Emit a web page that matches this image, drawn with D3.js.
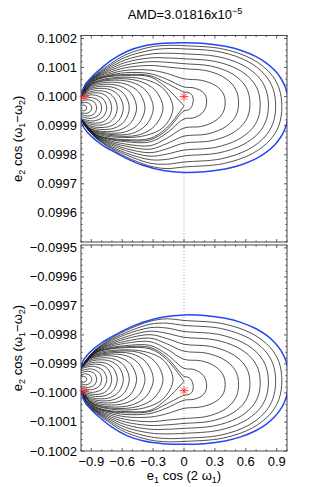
<!DOCTYPE html>
<html>
<head>
<meta charset="utf-8">
<script src="https://cdn.jsdelivr.net/npm/d3@7"></script>
<style>
  body { margin: 0; background: #fff; }
  text { font-family: "Liberation Sans", Arial, sans-serif; fill: #000; }
</style>
</head>
<body>
<div id="chart"></div>
<script>
// tick values
var xTicks = [-0.9, -0.6, -0.3, 0, 0.3, 0.6, 0.9];
var yTicksTop = [0.0996, 0.0997, 0.0998, 0.0999, 0.1000, 0.1001, 0.1002];
var yTicksBottom = [-0.1002, -0.1001, -0.1000, -0.0999, -0.0998, -0.0997, -0.0996, -0.0995];

// star line of each panel; curve points below are [x, offset from that line in 1e-5]
var centerTop = 0.1;
var centerBottom = -0.099992;
var stars = [[-0.97, 0], [0, 0]];

// blue AMD boundary
var boundary = [[-1.0, 0.0], [-0.98, 2.6], [-0.94, 4.9], [-0.88, 7.3], [-0.8, 9.8], [-0.7, 12.6],
  [-0.55, 15.6], [-0.4, 17.3], [-0.2, 18.3], [0, 18.5], [0.2, 18.27], [0.4, 17.32], [0.55, 15.94],
  [0.7, 13.73], [0.8, 11.52], [0.88, 9.02], [0.94, 6.3], [0.98, 3.54], [1.0, 1.3], [1.015, -3.8],
  [1.0, -8.9], [0.98, -11.14], [0.94, -13.9], [0.88, -16.62], [0.8, -19.12], [0.7, -21.33],
  [0.55, -23.54], [0.4, -24.92], [0.2, -25.87], [0, -26.1], [-0.2, -25.4], [-0.4, -23.6],
  [-0.55, -21.4], [-0.7, -18.6], [-0.8, -16.5], [-0.88, -14.3], [-0.94, -12.2], [-0.98, -10.2],
  [-1.0, -8.0], [-1.005, -4.0], [-1.0, 0.0]];

// separatrix, two branches meeting at the cusp
var sepTop = [[-1, 0], [-0.95, 3.0], [-0.86, 5.5], [-0.74, 6.8], [-0.57, 7.2], [-0.33, 6.8], [-0.17, 3.0], [0, -3.2]];
var sepBottom = [[0, -3.2], [-0.17, -10.8], [-0.33, -14.4], [-0.57, -14.8], [-0.74, -14.2], [-0.86, -13.0], [-0.95, -10.2], [-1, -7.8]];

// loops round the left equilibrium
var loops = [
  [[-1, -3.1], [-0.975, -2.9], [-0.953, -3.2], [-0.945, -3.9], [-0.953, -4.6], [-0.975, -4.9], [-1, -4.7]],
  [[-1, -2.4], [-0.953, -2.0], [-0.912, -2.6], [-0.896, -3.9], [-0.912, -5.2], [-0.953, -5.8], [-1, -5.4]],
  [[-1, -1.7], [-0.932, -1.1], [-0.871, -1.9], [-0.848, -3.9], [-0.871, -5.9], [-0.932, -6.7], [-1, -6.1]],
  [[-1, -1.0], [-0.91, -0.3], [-0.829, -1.4], [-0.799, -3.9], [-0.829, -6.4], [-0.91, -7.5], [-1, -6.8]],
  [[-1, -0.3], [-0.888, 0.6], [-0.788, -0.75], [-0.75, -3.9], [-0.788, -7.05], [-0.888, -8.4], [-1, -7.5]],
  [[-1, 0], [-0.985, 0.26], [-0.955, 0.68], [-0.881, 1.3], [-0.791, 0.94], [-0.732, -0.68], [-0.702, -3.9],
    [-0.732, -7.12], [-0.791, -8.74], [-0.881, -9.1], [-0.955, -8.48], [-0.985, -8.06], [-1, -7.8]],
  [[-1, 0], [-0.982, 0.53], [-0.947, 1.23], [-0.859, 2.0], [-0.754, 1.59], [-0.683, -0.24], [-0.648, -3.9],
    [-0.683, -7.56], [-0.754, -9.39], [-0.859, -9.8], [-0.947, -9.03], [-0.982, -8.33], [-1, -7.8]],
  [[-1, 0], [-0.979, 0.66], [-0.938, 1.86], [-0.836, 2.8], [-0.712, 2.33], [-0.63, 0.25], [-0.589, -3.9],
    [-0.63, -8.05], [-0.712, -10.13], [-0.836, -10.6], [-0.938, -9.66], [-0.979, -8.46], [-1, -7.8]],
  [[-1, 0], [-0.977, 0.76], [-0.93, 2.39], [-0.812, 3.5], [-0.672, 2.98], [-0.578, 0.69], [-0.531, -3.9],
    [-0.578, -8.49], [-0.672, -10.78], [-0.812, -11.3], [-0.93, -10.19], [-0.977, -8.56], [-1, -7.8]],
  [[-1, 0], [-0.973, 0.96], [-0.919, 2.99], [-0.784, 4.2], [-0.622, 3.63], [-0.514, 1.12], [-0.46, -3.9],
    [-0.514, -8.92], [-0.622, -11.43], [-0.784, -12.0], [-0.919, -10.79], [-0.973, -8.76], [-1, -7.8]],
  [[-1, 0], [-0.969, 1.38], [-0.907, 3.58], [-0.752, 4.9], [-0.565, 4.28], [-0.441, 1.56], [-0.379, -3.9],
    [-0.441, -9.36], [-0.565, -12.08], [-0.752, -12.5], [-0.907, -11.2], [-0.969, -9.18], [-1, -7.8]],
  [[-1, 0], [-0.965, 1.8], [-0.895, 4.18], [-0.719, 5.6], [-0.509, 4.94], [-0.368, 1.99], [-0.298, -3.9],
    [-0.368, -9.79], [-0.509, -12.74], [-0.719, -13.0], [-0.895, -11.7], [-0.965, -9.5], [-1, -7.8]],
  [[-1, 0], [-0.96, 2.1], [-0.881, 4.6], [-0.682, 6.1], [-0.443, 5.4], [-0.284, 2.3], [-0.204, -3.9],
    [-0.284, -10.1], [-0.443, -13.2], [-0.682, -13.5], [-0.881, -12.1], [-0.96, -9.7], [-1, -7.8]],
  [[-1, 0], [-0.955, 2.4], [-0.866, 5.03], [-0.643, 6.6], [-0.375, 5.87], [-0.196, 2.61], [-0.107, -3.9],
    [-0.196, -10.41], [-0.375, -13.4], [-0.643, -14.0], [-0.866, -12.6], [-0.955, -9.9], [-1, -7.8]]
];

// curves outside the separatrix, outermost first
var outer = [
  [[-1, 0], [-0.95, 4.8], [-0.86, 7.4], [-0.74, 10.6], [-0.57, 14.3], [-0.33, 17.0], [-0.17, 17.6], [0, 17.5],
    [0.38, 16.35], [0.665, 12.82], [0.836, 8.09], [0.9215, 3.01], [0.95, -3.5], [0.9215, -9.92], [0.836, -14.92],
    [0.665, -19.58], [0.38, -23.06], [0, -24.2], [-0.17, -24.75], [-0.33, -23.9], [-0.57, -20.6], [-0.74, -17.2],
    [-0.86, -14.1], [-0.95, -10.6], [-1, -7.8]],
  [[-1, 0], [-0.95, 4.6], [-0.86, 7.2], [-0.74, 10.1], [-0.57, 13.5], [-0.33, 15.9], [-0.17, 16.5], [0, 16.4],
    [0.356, 15.32], [0.623, 12.01], [0.783, 7.57], [0.863, 2.81], [0.89, -3.3], [0.863, -9.25], [0.783, -13.89],
    [0.623, -18.22], [0.356, -21.44], [0, -22.5], [-0.17, -23.25], [-0.33, -22.9], [-0.57, -19.9], [-0.74, -16.9],
    [-0.86, -14.0], [-0.95, -10.5], [-1, -7.8]],
  [[-1, 0], [-0.95, 4.4], [-0.86, 7.0], [-0.74, 9.6], [-0.57, 12.6], [-0.33, 14.6], [-0.17, 14.9], [0, 14.7],
    [0.328, 13.73], [0.574, 10.75], [0.722, 6.77], [0.795, 2.49], [0.82, -3.0], [0.795, -8.39], [0.722, -12.6],
    [0.574, -16.52], [0.328, -19.44], [0, -20.4], [-0.17, -21.6], [-0.33, -21.7], [-0.57, -19.3], [-0.74, -16.5],
    [-0.86, -13.9], [-0.95, -10.5], [-1, -7.8]],
  [[-1, 0], [-0.95, 4.2], [-0.86, 6.8], [-0.74, 9.1], [-0.57, 11.7], [-0.33, 13.3], [-0.17, 13.3], [0, 13.0],
    [0.296, 12.13], [0.518, 9.48], [0.651, 5.92], [0.718, 2.1], [0.74, -2.8], [0.718, -7.64], [0.651, -11.41],
    [0.518, -14.92], [0.296, -17.54], [0, -18.4], [-0.17, -19.8], [-0.33, -20.5], [-0.57, -18.5], [-0.74, -16.1],
    [-0.86, -13.7], [-0.95, -10.4], [-1, -7.8]],
  [[-1, 0], [-0.95, 4.0], [-0.86, 6.6], [-0.74, 8.6], [-0.57, 10.8], [-0.33, 12.0], [-0.17, 11.8], [0, 11.3],
    [0.256, 10.54], [0.448, 8.22], [0.563, 5.11], [0.621, 1.78], [0.64, -2.5], [0.621, -6.69], [0.563, -9.95],
    [0.448, -12.99], [0.256, -15.26], [0, -16.0], [-0.17, -18.0], [-0.33, -19.3], [-0.57, -17.8], [-0.74, -15.7],
    [-0.86, -13.6], [-0.95, -10.4], [-1, -7.8]],
  [[-1, 0], [-0.95, 3.8], [-0.86, 6.4], [-0.74, 8.1], [-0.57, 9.9], [-0.33, 10.7], [-0.17, 10.2], [0, 9.6],
    [0.212, 8.95], [0.371, 6.97], [0.466, 4.31], [0.514, 1.46], [0.53, -2.2], [0.514, -5.73], [0.466, -8.49],
    [0.371, -11.06], [0.212, -12.97], [0, -13.6], [-0.17, -16.2], [-0.33, -18.1], [-0.57, -17.0], [-0.74, -15.4],
    [-0.86, -13.4], [-0.95, -10.3], [-1, -7.8]],
  [[-1, 0], [-0.95, 3.6], [-0.86, 6.1], [-0.74, 7.6], [-0.57, 9.0], [-0.33, 9.1], [-0.17, 8.0], [0, 6.1],
    [0.16, 5.65], [0.28, 4.29], [0.352, 2.47], [0.388, 0.51], [0.40, -2.0], [0.388, -4.73], [0.352, -6.85],
    [0.28, -8.84], [0.16, -10.32], [0, -10.8], [-0.17, -14.4], [-0.33, -16.9], [-0.57, -16.3], [-0.74, -15.0],
    [-0.86, -13.3], [-0.95, -10.3], [-1, -7.8]],
  [[-1, 0], [-0.95, 3.4], [-0.86, 5.9], [-0.74, 7.2], [-0.57, 8.2], [-0.33, 7.9], [-0.17, 6.0], [0, 3.3],
    [0.088, 3.04], [0.154, 2.23], [0.194, 1.15], [0.213, -0.01], [0.22, -1.5], [0.213, -3.42], [0.194, -4.92],
    [0.154, -6.32], [0.088, -7.36], [0, -7.7], [-0.17, -12.6], [-0.33, -15.6], [-0.57, -15.5], [-0.74, -14.6],
    [-0.86, -13.1], [-0.95, -10.25], [-1, -7.8]],
  [[-1, 0], [-0.95, 3.2], [-0.86, 5.7], [-0.74, 7.0], [-0.57, 7.6], [-0.33, 7.2], [-0.17, 4.6], [0, 1.6],
    [0.036, 1.46], [0.063, 1.02], [0.079, 0.43], [0.09, -1.0], [0.079, -3.15], [0.063, -4.03], [0.036, -4.69],
    [0, -4.9], [-0.17, -11.55], [-0.33, -14.9], [-0.57, -15.1], [-0.74, -14.4], [-0.86, -13.1], [-0.95, -10.2], [-1, -7.8]]
];

var svg = d3.select("#chart").append("svg")
    .attr("width", 316)
    .attr("height", 487);

var xScale = d3.scaleLinear().domain([-1, 1]).range([81, 287]);

var panels = [
  { top: 35.5, bottom: 242, domain: [0.0995, 0.10021], ticks: yTicksTop, center: centerTop, sign: 1 },
  { top: 245, bottom: 451, domain: [-0.1002, -0.09949], ticks: yTicksBottom, center: centerBottom, sign: -1 }
];

function minus(s) { return s.replace("-", "\u2212"); }

panels.forEach(function(p, i) {
  var yScale = d3.scaleLinear().domain(p.domain).range([p.bottom, p.top]);
  var toY = function(off) { return p.center + p.sign * off * 1e-5; };
  var line = d3.line()
      .x(d => xScale(d[0]))
      .y(d => yScale(toY(d[1])))
      .curve(d3.curveCatmullRom.alpha(0.5));

  svg.append("clipPath").attr("id", "clip" + i)
    .append("rect")
      .attr("x", 81).attr("y", p.top)
      .attr("width", 206).attr("height", p.bottom - p.top);

  var g = svg.append("g").attr("clip-path", "url(#clip" + i + ")");

  // dotted line at x = 0
  g.append("line")
      .attr("x1", xScale(0)).attr("x2", xScale(0))
      .attr("y1", p.top).attr("y2", p.bottom)
      .attr("stroke", "#888").attr("stroke-width", 0.7)
      .attr("stroke-dasharray", "1,2");

  var curves = loops.concat([sepTop, sepBottom]).concat(outer);
  g.selectAll("path.contour")
    .data(curves)
    .enter()
    .append("path")
      .attr("class", "contour")
      .attr("d", line)
      .attr("fill", "none")
      .attr("stroke", "#1a1a1a")
      .attr("stroke-width", 0.75);

  g.append("path")
      .attr("d", line(boundary))
      .attr("fill", "none")
      .attr("stroke", "#2448f0")
      .attr("stroke-width", 1.5);

  // box
  svg.append("rect")
      .attr("x", 81).attr("y", p.top)
      .attr("width", 206).attr("height", p.bottom - p.top)
      .attr("fill", "none").attr("stroke", "#333").attr("stroke-width", 0.9);

  // ticks, pointing in, on all four sides
  var minorX = d3.range(-10, 11).map(k => k / 10);
  var minorY = d3.range(Math.ceil(p.domain[0] / 0.00002 - 1e-6), Math.floor(p.domain[1] / 0.00002 + 1e-6) + 1).map(k => k * 0.00002);
  var tk = svg.append("g").attr("stroke", "#333").attr("stroke-width", 0.8);
  minorX.forEach(function(v) {
    var len = xTicks.some(t => Math.abs(t - v) < 1e-9) ? 3 : 1.6;
    tk.append("line").attr("x1", xScale(v)).attr("x2", xScale(v)).attr("y1", p.bottom).attr("y2", p.bottom - len);
    tk.append("line").attr("x1", xScale(v)).attr("x2", xScale(v)).attr("y1", p.top).attr("y2", p.top + len);
  });
  minorY.forEach(function(v) {
    var len = p.ticks.some(t => Math.abs(t - v) < 1e-9) ? 3 : 1.6;
    tk.append("line").attr("x1", 81).attr("x2", 81 + len).attr("y1", yScale(v)).attr("y2", yScale(v));
    tk.append("line").attr("x1", 287).attr("x2", 287 - len).attr("y1", yScale(v)).attr("y2", yScale(v));
  });

  svg.append("g").selectAll("text")
    .data(p.ticks)
    .enter()
    .append("text")
      .attr("x", 77)
      .attr("y", d => yScale(d) + 4.5)
      .attr("text-anchor", "end")
      .attr("font-size", 13)
      .text(d => minus(d3.format(".4f")(d)));

  // red equilibrium markers
  var r = 4.5, q = 3.2;
  svg.append("g").selectAll("path.star")
    .data(stars)
    .enter()
    .append("path")
      .attr("class", "star")
      .attr("transform", d => "translate(" + xScale(d[0]) + "," + yScale(toY(d[1])) + ")")
      .attr("d", "M" + (-r) + ",0H" + r + "M0," + (-r) + "V" + r +
                 "M" + (-q) + "," + (-q) + "L" + q + "," + q + "M" + (-q) + "," + q + "L" + q + "," + (-q))
      .attr("stroke", "#ff2a2a").attr("stroke-width", 0.9).attr("fill", "none");

  // y axis label
  var lab = svg.append("text")
      .attr("transform", "translate(22," + ((p.top + p.bottom) / 2) + ") rotate(-90)")
      .attr("text-anchor", "middle")
      .attr("font-size", 13);
  lab.append("tspan").text("e");
  lab.append("tspan").attr("font-size", 9).attr("dy", 3).text("2");
  lab.append("tspan").attr("dy", -3).text(" cos (\u03c9");
  lab.append("tspan").attr("font-size", 9).attr("dy", 3).text("1");
  lab.append("tspan").attr("dy", -3).text("\u2212\u03c9");
  lab.append("tspan").attr("font-size", 9).attr("dy", 3).text("2");
  lab.append("tspan").attr("dy", -3).text(")");
});

// x tick labels on the lower panel
svg.append("g").selectAll("text")
  .data(xTicks)
  .enter()
  .append("text")
    .attr("x", d => xScale(d))
    .attr("y", 466)
    .attr("text-anchor", "middle")
    .attr("font-size", 13)
    .text(d => d === 0 ? "0" : minus(d.toFixed(1)));

var xl = svg.append("text")
    .attr("x", 184).attr("y", 480)
    .attr("text-anchor", "middle")
    .attr("font-size", 13);
xl.append("tspan").text("e");
xl.append("tspan").attr("font-size", 9).attr("dy", 3).text("1");
xl.append("tspan").attr("dy", -3).text(" cos (2 \u03c9");
xl.append("tspan").attr("font-size", 9).attr("dy", 3).text("1");
xl.append("tspan").attr("dy", -3).text(")");

var title = svg.append("text")
    .attr("x", 185).attr("y", 19)
    .attr("text-anchor", "middle")
    .attr("font-size", 13);
title.append("tspan").text("AMD=3.01816x10");
title.append("tspan").attr("font-size", 9).attr("dy", -5).text("\u22125");
</script>
</body>
</html>
